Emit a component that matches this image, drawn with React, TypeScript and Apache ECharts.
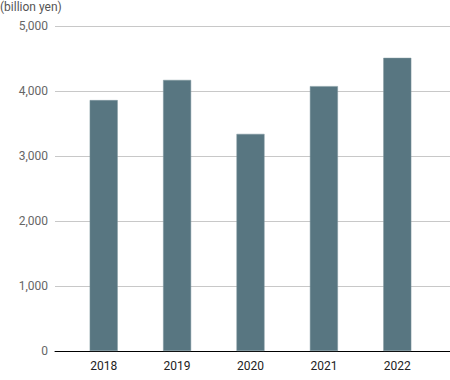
import React, { useEffect, useRef } from "react";
import * as echarts from "echarts";

const years = ["2018", "2019", "2020", "2021", "2022"];
const values = [3860, 4170, 3340, 4075, 4510];
const yTicks = [0, 1000, 2000, 3000, 4000, 5000];
const unitLabel = "(billion yen)";

export default function App() {
  const ref = useRef<HTMLDivElement>(null);
  useEffect(() => {
    if (!ref.current) return;
    const chart = echarts.init(ref.current, null, { renderer: "svg" });
    const font = "Roboto, 'DejaVu Sans', sans-serif";
    chart.setOption({
      animation: false,
      title: {
        text: unitLabel,
        left: 0,
        top: 0,
        padding: [1, 0, 0, 0],
        textStyle: { fontSize: 12, fontWeight: "normal", color: "#555", fontFamily: font },
      },
      grid: [
        { left: 55, right: 0, top: 26, bottom: 29 },
        { left: 67, right: 16, top: 26, bottom: 29 },
      ],
      xAxis: [
        {
          type: "category",
          gridIndex: 0,
          data: years,
          axisLine: { show: true, lineStyle: { color: "#000", width: 1 } },
          axisTick: { show: false },
          axisLabel: { show: false },
        },
        {
          type: "category",
          gridIndex: 1,
          data: years,
          axisLine: { show: false },
          axisTick: { show: false },
          axisLabel: { color: "#222", fontSize: 12, margin: 9, fontFamily: font },
        },
      ],
      yAxis: [
        {
          type: "value",
          gridIndex: 0,
          min: yTicks[0],
          max: yTicks[yTicks.length - 1],
          interval: 1000,
          axisLine: { show: false },
          axisTick: { show: false },
          axisLabel: {
            color: "#666",
            fontSize: 12,
            margin: 7,
            fontFamily: font,
            formatter: (v: number) => v.toLocaleString("en-US"),
          },
          splitLine: { lineStyle: { color: "#c8c8c8", width: 1 } },
        },
        {
          type: "value",
          gridIndex: 1,
          min: yTicks[0],
          max: yTicks[yTicks.length - 1],
          interval: 1000,
          show: false,
          splitLine: { show: false },
        },
      ],
      series: [
        {
          type: "bar",
          xAxisIndex: 1,
          yAxisIndex: 1,
          data: values,
          barWidth: 28,
          itemStyle: { color: "#587681", borderColor: "#7d949c", borderWidth: 0.5 },
          z: 3,
        },
      ],
    });
    return () => chart.dispose();
  }, []);
  return <div ref={ref} style={{ width: 450, height: 380, position: "absolute", left: 0, top: 0 }} />;
}
